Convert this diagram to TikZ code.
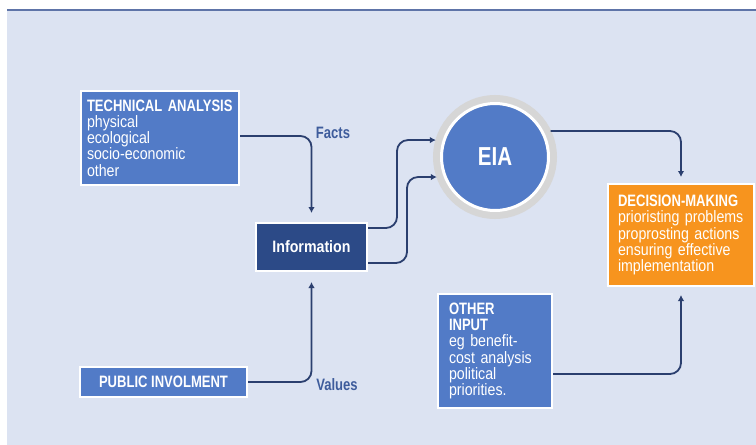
\documentclass[tikz,border=0pt]{standalone}
\usepackage{fontspec}
\setmainfont{Liberation Sans}[FakeStretch=0.86]
\newfontfamily\headfont{Liberation Sans}[FakeStretch=0.79]
\usetikzlibrary{arrows.meta}

\definecolor{paneblue}{HTML}{DCE3F2}
\definecolor{rulecolor}{HTML}{5E74A8}
\definecolor{boxblue}{HTML}{527BC7}
\definecolor{infoblue}{HTML}{2C4A87}
\definecolor{decorange}{HTML}{F7941E}
\definecolor{flowblue}{HTML}{2B3F6F}
\definecolor{ringgray}{HTML}{D6D6D6}
\definecolor{tagblue}{HTML}{3E5C9C}

\newcommand\boxhead[1]{{\headfont\bfseries #1}}

\tikzset{
  box/.style={rectangle, draw=white, line width=2pt, inner xsep=0pt, inner ysep=0pt,
    text=white, align=left, font=\fontsize{16.5}{16.3}\selectfont},
  flow/.style={draw=flowblue, line width=1.8pt, rounded corners=11pt,
    -{Latex[length=6pt,width=6.5pt]}},
  tag/.style={text=tagblue, font=\headfont\bfseries\fontsize{16.5}{16}\selectfont}
}

\begin{document}
\begin{tikzpicture}[x=1pt,y=-1pt]
%% backdrop
\useasboundingbox (0,0) rectangle (756,445);
\fill[paneblue] (7,10) rectangle (756,445);
\draw[rulecolor, line width=1.5pt] (7,10) -- (756,10);
%% inputs
\node[box, fill=boxblue, minimum width=158, minimum height=94, text width=146] (tech) at (160,138)
  {\boxhead{TECHNICAL ANALYSIS}\\ physical\\ ecological\\ socio-economic\\ other};
\node[box, fill=boxblue, minimum width=167, minimum height=30] (pub) at (163.5,382)
  {\boxhead{PUBLIC INVOLMENT}};
\node[box, fill=infoblue, minimum width=111, minimum height=48] (info) at (311.5,247)
  {\bfseries Information};
\node[box, fill=boxblue, minimum width=114, minimum height=114, text width=92] (other) at (495,351)
  {\boxhead{OTHER}\\ \boxhead{INPUT}\\ eg benefit-\\ cost analysis\\ political\\ priorities.};
%% eia and decision
\node[circle, fill=boxblue, draw=white, line width=3pt, minimum size=107, inner sep=0pt, outer sep=8pt,
  preaction={draw=ringgray, line width=17pt}, text=white,
  font=\headfont\bfseries\fontsize{26}{26}\selectfont] (eia) at (495,157) {EIA};
\node[box, fill=decorange, minimum width=146, minimum height=102, text width=126] (dec) at (681,235)
  {\boxhead{DECISION-MAKING}\\ prioristing problems\\ proprosting actions\\ ensuring effective\\ implementation};
%% labels
\node[tag] (facts) at (333,133) {Facts};
\node[tag] (values) at (337,385) {Values};
%% connectors
\draw[flow, shorten >=9pt] ([yshift=2pt]tech.east) -| (info.north);
\draw[flow, shorten >=10pt] (pub.east) -| (info.south);
\draw[flow] ([yshift=19pt]info.east) -- ++(29,0) |- (eia.164);
\draw[flow] ([yshift=-16pt]info.east) -- ++(39,0) |- (eia.199);
\draw[flow, shorten >=6pt] (eia.25) -| (dec.north);
\draw[flow, shorten >=8pt] ([yshift=-23pt]other.east) -| (dec.south);
\end{tikzpicture}
\end{document}
